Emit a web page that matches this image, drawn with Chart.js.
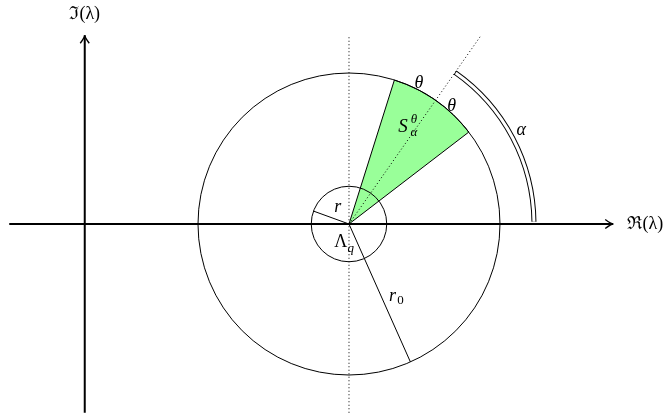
<!DOCTYPE html>
<html>
<head>
<meta charset="utf-8">
<script src="https://cdn.jsdelivr.net/npm/chart.js@4"></script>
<style>
  html, body { margin: 0; background: #fff; }
</style>
</head>
<body>
<canvas id="chart" width="667" height="414"></canvas>
<script>
// geometry in diagram units, circles centred at the origin
const circleRadii = [1, 4];            // r (Λ_q), r0
const radiusAngles = [160, -66];       // direction of the r and r0 segments (deg)
const alphaDeg = 55;                   // direction of the sector
const thetaDeg = 17.5;                 // half opening of the sector
const alphaArcRadius = 4.9;            // double arc marking α
const rayLength = 6.1;                 // dotted ray along α
const realAxisX = [-9, 7];
const imagAxisY = [-5, 5];
const imagAxisX = -7;
const dottedAxisY = [-5, 5];

const rad = (d) => (d * Math.PI) / 180;
const polar = (len, deg) => ({ x: len * Math.cos(rad(deg)), y: len * Math.sin(rad(deg)) });

const texts = [
  { t: "ℑ(λ)", x: -7, y: 5.55, italic: false },
  { t: "ℜ(λ)", x: 7.85, y: 0, italic: false },
  { t: "α", x: 4.56, y: 2.49, italic: true },
  { t: "θ", x: 1.85, y: 3.72, italic: true },
  { t: "θ", x: 2.72, y: 3.13, italic: true },
  { t: "r", x: -0.3, y: 0.45, italic: true },
];

function line(from, to, opts) {
  return Object.assign({
    data: [from, to],
    showLine: true,
    pointRadius: 0,
    borderColor: "#000",
    borderWidth: 1,
    fill: false,
  }, opts || {});
}

function arrowHead(ctx, tx, ty, dx, dy) {
  const px = -dy, py = dx;
  const len = 8, w = 4.5;
  ctx.save();
  ctx.lineWidth = 1.4;
  ctx.strokeStyle = "#000";
  ctx.beginPath();
  ctx.moveTo(tx - dx * len + px * w, ty - dy * len + py * w);
  ctx.quadraticCurveTo(tx - dx * 2, ty - dy * 2, tx, ty);
  ctx.quadraticCurveTo(tx - dx * 2, ty - dy * 2, tx - dx * len - px * w, ty - dy * len - py * w);
  ctx.stroke();
  ctx.restore();
}

const diagramPlugin = {
  id: "diagram",
  beforeDatasetsDraw(chart) {
    const { ctx, scales } = chart;
    const cx = scales.x.getPixelForValue(0), cy = scales.y.getPixelForValue(0);
    const unit = scales.x.getPixelForValue(1) - cx;
    const R = circleRadii[1] * unit;
    const a0 = rad(alphaDeg - thetaDeg), a1 = rad(alphaDeg + thetaDeg);
    ctx.save();
    ctx.beginPath();
    ctx.moveTo(cx, cy);
    ctx.arc(cx, cy, R, -a0, -a1, true);
    ctx.closePath();
    ctx.fillStyle = "rgb(153,255,153)";
    ctx.fill();
    ctx.lineWidth = 1;
    ctx.strokeStyle = "#000";
    ctx.stroke();
    ctx.restore();
  },
  afterDatasetsDraw(chart) {
    const { ctx, scales } = chart;
    const X = (v) => scales.x.getPixelForValue(v);
    const Y = (v) => scales.y.getPixelForValue(v);
    const cx = X(0), cy = Y(0);
    const unit = X(1) - cx;

    ctx.save();
    ctx.strokeStyle = "#000";
    ctx.lineWidth = 1;
    circleRadii.forEach((r) => {
      ctx.beginPath();
      ctx.arc(cx, cy, r * unit, 0, Math.PI * 2);
      ctx.stroke();
    });

    // double arc for α
    const Ra = alphaArcRadius * unit;
    ctx.lineWidth = 5;
    ctx.beginPath();
    ctx.arc(cx, cy, Ra, -0.012, -rad(alphaDeg), true);
    ctx.stroke();
    ctx.lineWidth = 3;
    ctx.strokeStyle = "#fff";
    ctx.beginPath();
    ctx.arc(cx, cy, Ra, -0.012, -rad(alphaDeg) + 0.004, true);
    ctx.stroke();
    ctx.restore();

    // arrows
    arrowHead(ctx, X(realAxisX[1]), Y(0), 1, 0);
    arrowHead(ctx, X(imagAxisX), Y(imagAxisY[1]), 0, -1);

    // labels
    ctx.save();
    ctx.fillStyle = "#000";
    ctx.textAlign = "center";
    ctx.textBaseline = "middle";
    const serif = "'Liberation Serif','DejaVu Serif',serif";
    texts.forEach((l) => {
      ctx.font = (l.italic ? "italic " : "") + "18px " + serif;
      ctx.fillText(l.t, X(l.x), Y(l.y));
    });

    // S_α^θ
    let sx = X(1.43), sy = Y(2.57);
    ctx.font = "italic 19px " + serif;
    ctx.fillText("S", sx, sy);
    ctx.font = "italic 13px " + serif;
    ctx.fillText("θ", sx + 11, sy - 7);
    ctx.fillText("α", sx + 11, sy + 6);

    // Λ_q
    sx = X(-0.22); sy = Y(-0.48);
    ctx.font = "18px " + serif;
    ctx.fillText("Λ", sx, sy);
    ctx.font = "italic 13px " + serif;
    ctx.fillText("q", sx + 10, sy + 6);

    // r0
    const p = polar(2.1, radiusAngles[1]);
    sx = X(p.x + 0.3); sy = Y(p.y);
    ctx.font = "italic 18px " + serif;
    ctx.fillText("r", sx, sy);
    ctx.font = "13px " + serif;
    ctx.fillText("0", sx + 8, sy + 4);
    ctx.restore();
  },
};

new Chart(document.getElementById("chart"), {
  type: "scatter",
  data: {
    datasets: [
      line({ x: 0, y: dottedAxisY[0] }, { x: 0, y: dottedAxisY[1] }, { borderDash: [1, 2.5], borderWidth: 1 }),
      line({ x: 0, y: 0 }, polar(rayLength, alphaDeg), { borderDash: [1, 2.5], borderWidth: 1 }),
      line({ x: realAxisX[0], y: 0 }, { x: realAxisX[1], y: 0 }, { borderWidth: 2 }),
      line({ x: imagAxisX, y: imagAxisY[0] }, { x: imagAxisX, y: imagAxisY[1] }, { borderWidth: 2 }),
      line({ x: 0, y: 0 }, polar(circleRadii[0], radiusAngles[0])),
      line({ x: 0, y: 0 }, polar(circleRadii[1], radiusAngles[1])),
    ],
  },
  options: {
    responsive: false,
    animation: false,
    layout: { padding: 0 },
    plugins: { legend: { display: false }, tooltip: { enabled: false } },
    scales: {
      x: { type: "linear", display: false, min: -9.245, max: 8.424 },
      y: { type: "linear", display: false, min: -5.033, max: 5.934 },
    },
  },
  plugins: [diagramPlugin],
});
</script>
</body>
</html>
